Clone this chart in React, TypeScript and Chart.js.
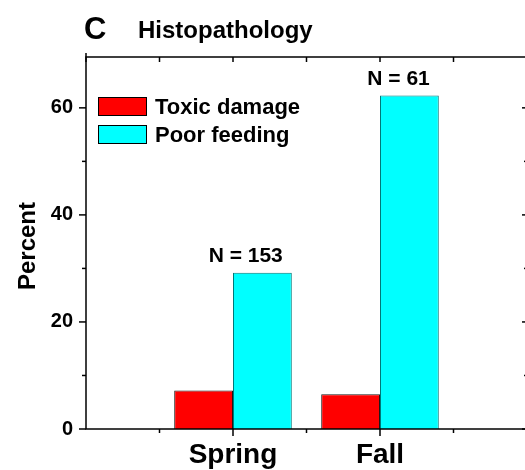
import React, { useEffect, useRef } from "react";
import { Chart, registerables } from "chart.js";

Chart.register(...registerables);

const categories = ["Spring", "Fall"];
const toxicDamage = [7.2, 6.5];
const poorFeeding = [29.2, 62.3];
const nLabels = ["N = 153", "N = 61"];
const seriesNames = ["Toxic damage", "Poor feeding"];
const yTickValues = [0, 10, 20, 30, 40, 50, 60];
const yLabelStep = 20;
const yMax = 69.5;

const FONT = '"Liberation Sans", Arial, sans-serif';
const RED = "#ff0000";
const CYAN = "#00ffff";

export default function App() {
  const ref = useRef<HTMLCanvasElement | null>(null);

  useEffect(() => {
    document.body.style.margin = "0";
    const canvas = ref.current;
    if (!canvas) return;
    const labels = ["", ...categories, ""];

    const decor = {
      id: "decor",
      afterDraw(chart: any) {
        const { ctx, chartArea, scales } = chart;
        const { left, right, top, bottom } = chartArea;
        const x = scales.x;
        const y = scales.y;
        ctx.save();
        ctx.strokeStyle = "#000";
        ctx.lineWidth = 1.5;
        const line = (x1: number, y1: number, x2: number, y2: number) => {
          ctx.beginPath();
          ctx.moveTo(x1, y1);
          ctx.lineTo(x2, y2);
          ctx.stroke();
        };
        ctx.strokeRect(left, top, right - left, bottom - top);
        yTickValues.forEach((v) => {
          const py = y.getPixelForValue(v);
          const major = v % yLabelStep === 0;
          line(left - (major ? 7 : 4), py, left, py);
          line(right - (major ? 5 : 3), py, right, py);
        });
        for (let i = 0; i <= (labels.length - 1) * 2; i++) {
          const v = i / 2;
          const px = x.getPixelForValue(v);
          const major = i % 2 === 0;
          if (v > 0 && v < labels.length - 1) {
            line(px, bottom, px, bottom + (major ? 7 : 4));
          }
          line(px, top - (i === 0 ? 4 : 0), px, top + 5);
        }
        // title
        ctx.fillStyle = "#000";
        ctx.textBaseline = "alphabetic";
        ctx.textAlign = "left";
        ctx.font = `bold 31px ${FONT}`;
        ctx.fillText("C", 84, 39);
        ctx.font = `bold 24px ${FONT}`;
        ctx.fillText("Histopathology", 138, 38);
        // y axis title
        ctx.save();
        ctx.translate(35, (top + bottom) / 2 + 3);
        ctx.rotate(-Math.PI / 2);
        ctx.textAlign = "center";
        ctx.font = `bold 24px ${FONT}`;
        ctx.fillText("Percent", 0, 0);
        ctx.restore();
        // legend
        const colors = [RED, CYAN];
        ctx.font = `bold 22px ${FONT}`;
        ctx.textBaseline = "alphabetic";
        seriesNames.forEach((name, i) => {
          const bx = left + 12;
          const by = top + 40 + i * 28;
          ctx.fillStyle = colors[i];
          ctx.fillRect(bx, by, 49, 19);
          ctx.lineWidth = 1;
          ctx.strokeStyle = "#000";
          ctx.strokeRect(bx + 0.5, by + 0.5, 48, 18);
          ctx.fillStyle = "#000";
          ctx.fillText(name, bx + 57, by + 17);
        });
        // N labels (right-aligned near the right edge of the cyan bars)
        const meta = chart.getDatasetMeta(1);
        ctx.font = `bold 21px ${FONT}`;
        ctx.textAlign = "right";
        nLabels.forEach((t, i) => {
          const el = meta.data[i + 1];
          if (!el) return;
          ctx.fillText(t, el.x + el.width / 2 - 9, el.y - 11);
        });
        ctx.restore();
      },
    };

    const chart = new Chart(canvas, {
      type: "bar",
      data: {
        labels,
        datasets: [
          {
            label: seriesNames[0],
            data: [null, ...toxicDamage, null],
            backgroundColor: RED,
            borderColor: "#1a1a1a",
            borderWidth: 1,
          },
          {
            label: seriesNames[1],
            data: [null, ...poorFeeding, null],
            backgroundColor: CYAN,
            borderColor: "#007878",
            borderWidth: 1,
          },
        ],
      },
      options: {
        responsive: false,
        animation: false,
        devicePixelRatio: 1,
        layout: { padding: { left: 0, top: 57, right: 5, bottom: 0 } },
        plugins: {
          legend: { display: false },
          tooltip: { enabled: false },
          title: { display: false },
        },
        datasets: {
          bar: { categoryPercentage: 0.8, barPercentage: 1.0 },
        },
        scales: {
          x: {
            offset: false,
            grid: { display: false, drawTicks: false, offset: false },
            border: { display: false },
            ticks: {
              autoSkip: false,
              maxRotation: 0,
              color: "#000",
              padding: 9,
              font: { family: FONT, size: 28, weight: "bold" },
            },
            afterFit: (s: any) => {
              s.height = 41;
              s.paddingLeft = 0;
              s.paddingRight = 0;
            },
          },
          y: {
            min: 0,
            max: yMax,
            grid: { display: false, drawTicks: false },
            border: { display: false },
            afterBuildTicks: (s: any) => {
              s.ticks = yTickValues.map((v) => ({ value: v }));
            },
            ticks: {
              autoSkip: false,
              color: "#000",
              padding: 13,
              font: { family: FONT, size: 20, weight: "bold" },
              callback: (v: any) => (Number(v) % yLabelStep === 0 ? String(v) : ""),
            },
            afterFit: (s: any) => {
              s.width = 86;
              s.paddingTop = 0;
              s.paddingBottom = 0;
            },
          },
        },
      },
      plugins: [decor],
    });
    return () => chart.destroy();
  }, []);

  return (
    <div style={{ width: 525, height: 470, overflow: "hidden", background: "#fff" }}>
      <canvas ref={ref} width={532} height={470} style={{ display: "block" }} />
    </div>
  );
}
